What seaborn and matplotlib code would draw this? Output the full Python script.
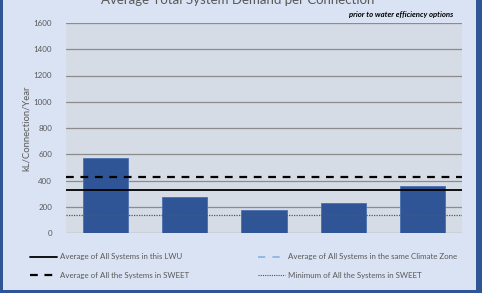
import matplotlib
matplotlib.use("Agg")
import matplotlib.pyplot as plt
from matplotlib.lines import Line2D
from matplotlib.patches import Rectangle
import pandas as pd
import seaborn as sns

# chart values (kL/connection/year)
systems = ["System 1", "System 2", "System 3", "System 4", "System 5"]
demand = [568, 278, 178, 232, 358]

avg_lwu = 326        # average of all systems in this LWU
avg_sweet = 425      # average of all the systems in SWEET
min_sweet = 138      # minimum of all the systems in SWEET

y_ticks = [0, 200, 400, 600, 800, 1000, 1200, 1400, 1600]

title = "Average Total System Demand per Connection"
subtitle = "prior to water efficiency options"
y_label = "kL/Connection/Year"
legend_labels = [
    "Average of All Systems in this LWU",
    "Average of All the Systems in SWEET",
    "Average of All Systems in the same Climate Zone",
    "Minimum of All the Systems in SWEET",
]

df = pd.DataFrame({"system": systems, "demand": demand})

sns.set_style("white")
plt.rcParams["font.family"] = ["Lato", "DejaVu Sans"]

bg = "#dae3f3"
plot_bg = "#d6dce5"
bar_col = "#2f5597"
txt_col = "#595959"

fig = plt.figure(figsize=(4.82, 2.93), dpi=100)
fig.patch.set_facecolor(bar_col)
# light panel inside the dark blue frame
fig.patches.append(Rectangle((3 / 482, 3 / 293), 473 / 482, 1.0,
                             transform=fig.transFigure, facecolor=bg,
                             edgecolor="none", zorder=-10))

ax = fig.add_axes([66 / 482, 1 - 233 / 293, 396 / 482, 210 / 293])
ax.set_facecolor(plot_bg)

sns.barplot(data=df, x="system", y="demand", color=bar_col, width=0.57,
            edgecolor="#4a70b0", linewidth=0.6, saturation=1, ax=ax, zorder=3)

ax.axhline(avg_lwu, color="black", lw=1.3, zorder=4)
ax.axhline(avg_sweet, color="black", lw=1.6, ls=(0, (3.5, 3)), zorder=4)
ax.axhline(min_sweet, color="#555555", lw=0.9, ls=(0, (1, 1)), zorder=4)

ax.set_ylim(0, 1600)
ax.set_xlim(-0.5, len(systems) - 0.5)
ax.set_yticks(y_ticks)
ax.set_yticklabels([str(t) for t in y_ticks], fontsize=5.8, color=txt_col)
ax.tick_params(axis="y", length=0, pad=10)
ax.set_xticks([])
ax.set_xlabel("")
ax.set_ylabel(y_label, fontsize=6.8, color=txt_col, labelpad=2)
ax.grid(axis="y", color="#8c8c8c", lw=0.9, zorder=1)
ax.set_axisbelow(True)
for s in ax.spines.values():
    s.set_visible(False)

fig.text(238 / 482, 1 - 4.5 / 293, title, ha="center", va="baseline",
         fontsize=9.5, color=txt_col)
fig.text(453 / 482, 1 - 17 / 293, subtitle, ha="right", va="baseline",
         fontsize=5.6, color="black", style="italic", weight="bold")

handles = [
    Line2D([], [], color="black", lw=1.3),
    Line2D([], [], color="black", lw=1.6, ls=(0, (3.5, 3))),
    Line2D([], [], color="#8eb4e3", lw=1.3, ls=(0, (4, 4))),
    Line2D([], [], color="#555555", lw=0.8, ls=(0, (1, 1))),
]
leg = fig.legend(handles, legend_labels, ncol=2, loc="upper left",
                 bbox_to_anchor=(24 / 482, 1 - 247 / 293), frameon=False,
                 fontsize=5.7, handlelength=3.4, handletextpad=0.3,
                 columnspacing=8.8, labelspacing=1.5, borderpad=0.3)
for t in leg.get_texts():
    t.set_color(txt_col)

fig.savefig("out.png", dpi=100, facecolor=fig.get_facecolor())
